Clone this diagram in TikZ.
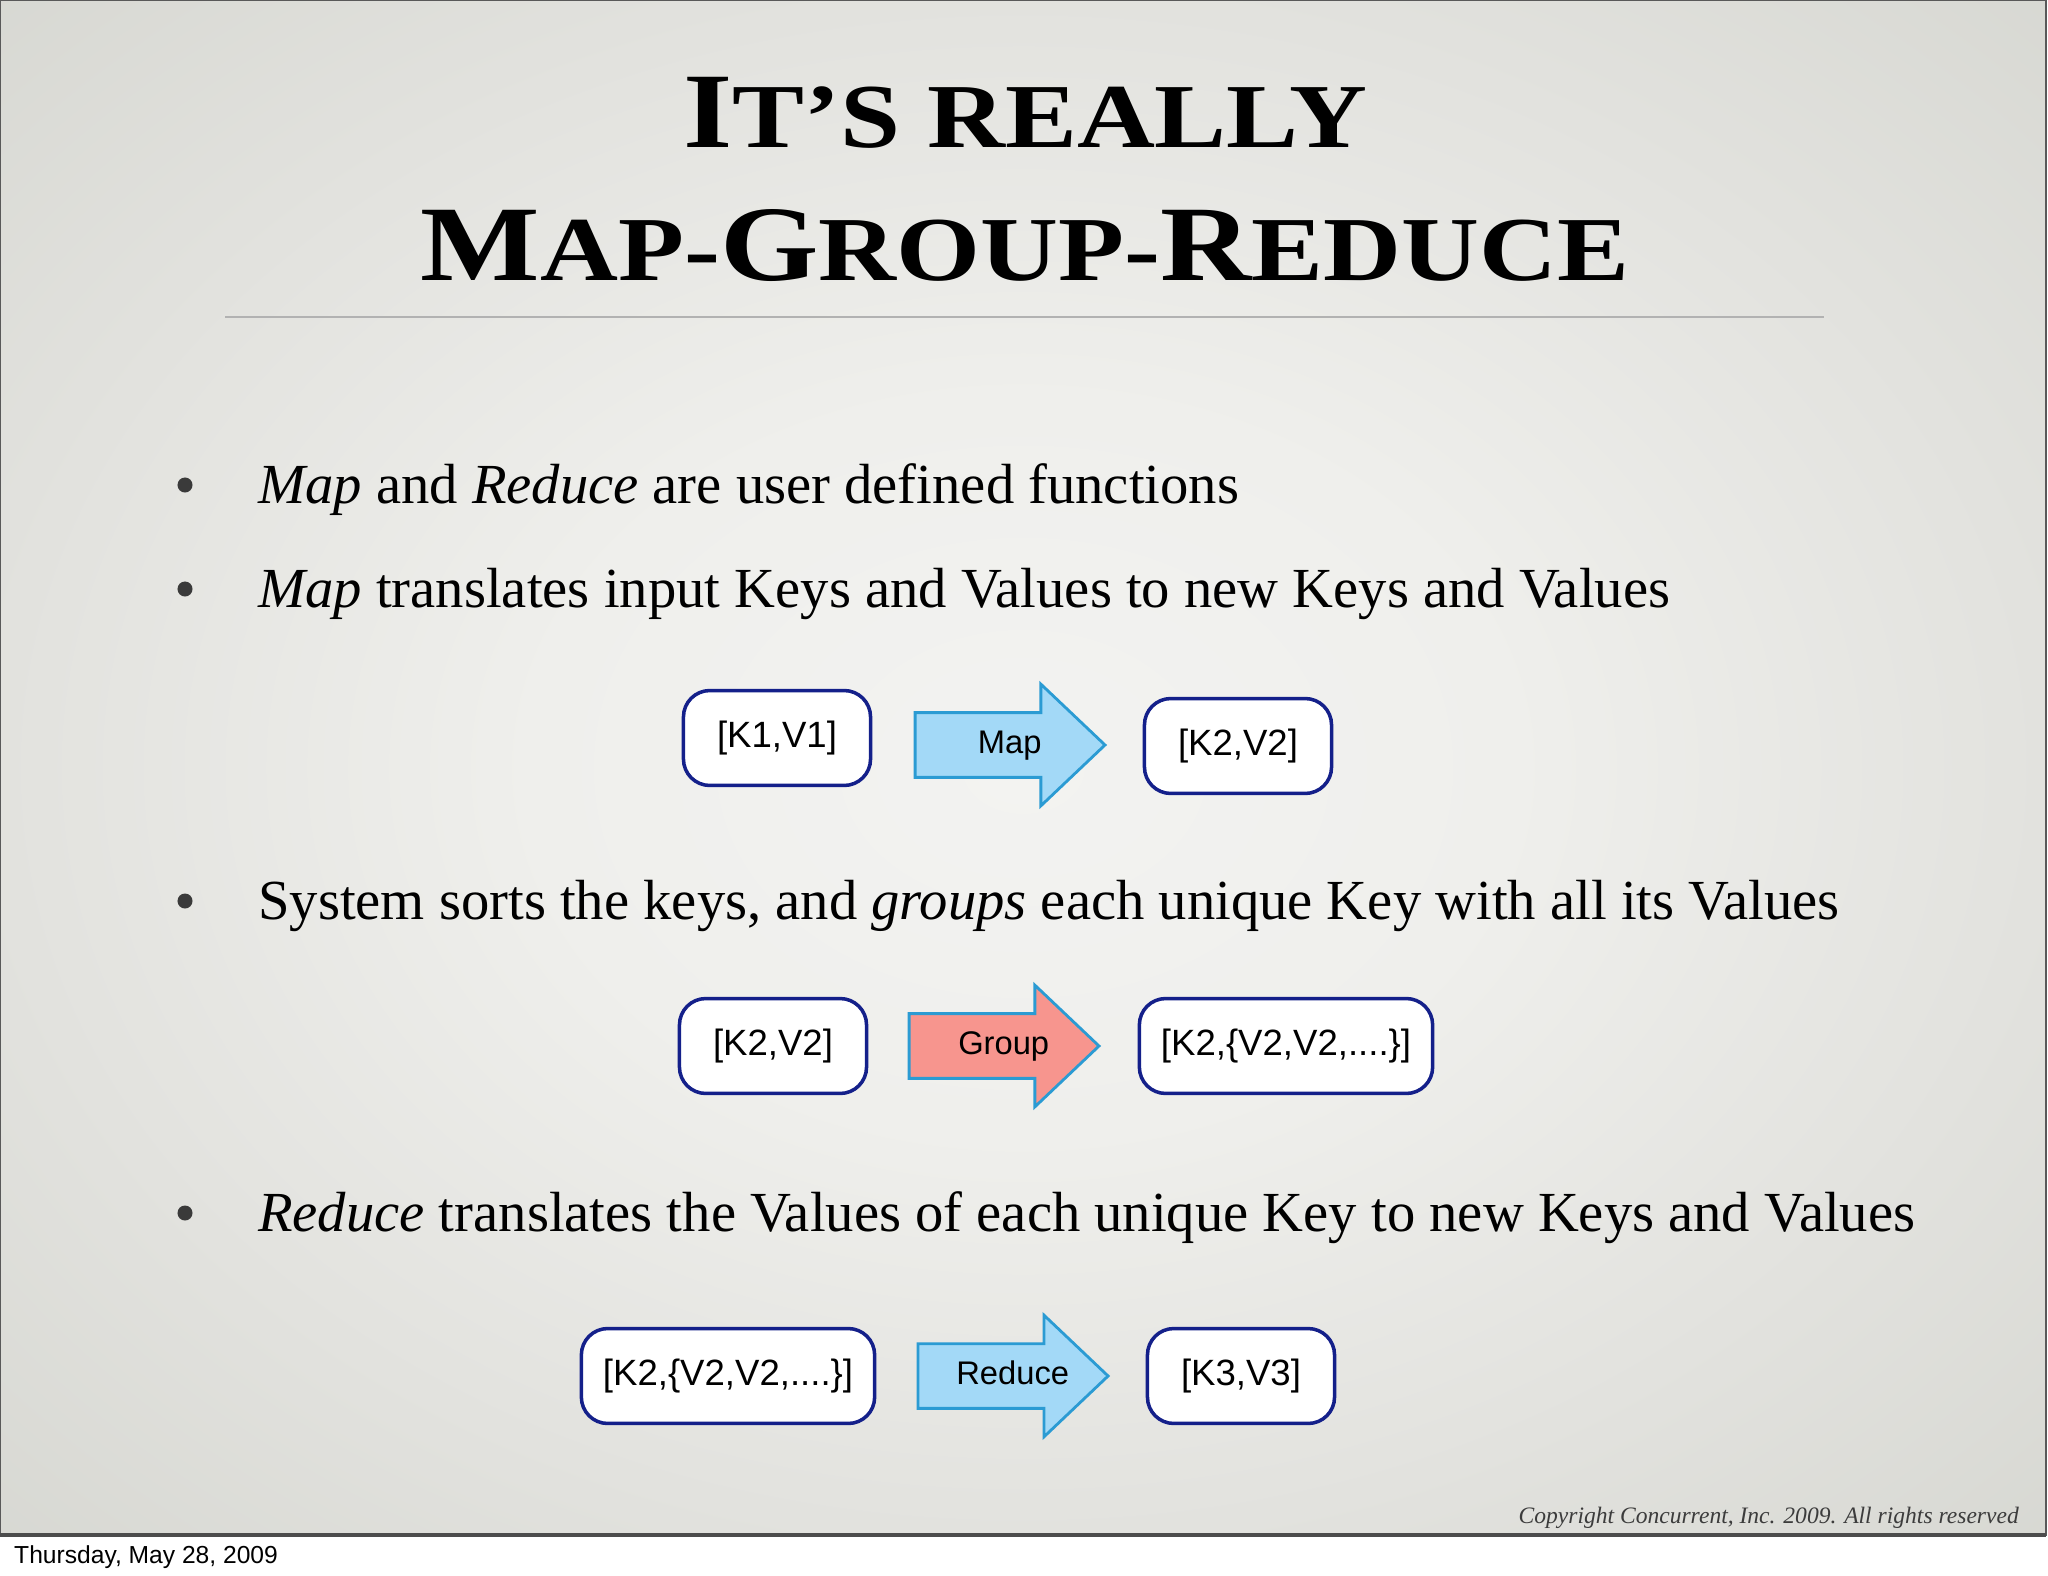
\documentclass[tikz,border=0pt]{standalone}
\usepackage{fontspec}
\setmainfont{Liberation Serif}
\setsansfont{Liberation Sans}
\newfontfamily\titlefont[FakeStretch=1.18]{Liberation Serif}
\newfontfamily\bodyfont{Liberation Serif}
\usetikzlibrary{shapes.arrows}

\definecolor{boxline}{HTML}{14208A}
\definecolor{arrowline}{HTML}{2B9BD3}
\definecolor{mapfill}{HTML}{A3D9F7}
\definecolor{groupfill}{HTML}{F7958E}
\definecolor{copytext}{HTML}{3C3C3C}
\definecolor{dotgray}{HTML}{3A3A3A}
\definecolor{bgA}{HTML}{F3F3F1}
\definecolor{bgB}{HTML}{EFEFEC}
\definecolor{bgC}{HTML}{E2E2DE}
\definecolor{bgD}{HTML}{D3D4CE}
\definecolor{bgE}{HTML}{C6C7BE}

% slide background, light in the middle
\pgfdeclareradialshading{slideshade}{\pgfpoint{0bp}{0bp}}{%
  color(0bp)=(bgA); color(12bp)=(bgB); color(25bp)=(bgC);
  color(40bp)=(bgD); color(58bp)=(bgE); color(71bp)=(bgE)}

% title letters: first capital large, the rest as small capitals
\newcommand{\titlecap}[2]{{\fontsize{30.5}{36}\selectfont #1}{\fontsize{26}{36}\selectfont #2}}

\begin{document}
\begin{tikzpicture}[x=0.01cm, y=-0.01cm,
every node/.style={inner sep=1pt},
kv/.style={draw=boxline, line width=1pt, fill=white, rounded corners=7.5pt,
    minimum height=27pt, font=\sffamily\fontsize{10.4}{12}\selectfont},
op/.style={single arrow, draw=arrowline, line width=0.8pt,
    single arrow tip angle=87, single arrow head extend=8.1pt,
    minimum height=54pt, text height=6.7pt, text depth=1.9pt, inner ysep=4.5pt,
    execute at begin node={\hspace*{9.5pt}},
    font=\sffamily\fontsize{9.3}{11}\selectfont},
bul/.style={anchor=base west, font=\bodyfont\fontsize{16.1}{19}\selectfont},
dot/.style={circle, fill=dotgray, minimum size=0.15cm, inner sep=0pt}
]
\useasboundingbox (0,0) rectangle (2048,1576);
\fill[white] (0,0) rectangle (2048,1576);
\shade[shading=slideshade] (0,0) rectangle (2046,1535);
\draw[black!65, line width=0.4pt] (0,0) rectangle (2046,1535);
\draw[black!70, line width=1.2pt] (0,1535) -- (2046,1535);

% title
\node[anchor=base, font=\titlefont\bfseries] (title1) at (1025,148)
    {\titlecap{I}{T’S REALLY}};
\node[anchor=base, font=\titlefont\bfseries] (title2) at (1025,281)
    {\titlecap{M}{AP-}\titlecap{G}{ROUP-}\titlecap{R}{EDUCE}};
\draw[black!30, line width=0.7pt] (225,317) -- (1824,317);

% bullets
\foreach \y [count=\i] in {485,589,901,1213}
    \node[dot] (dot\i) at (185,\y) {};
\node[bul] (b1) at (254,503) {\textit{Map} and \textit{Reduce} are user defined functions};
\node[bul] (b2) at (254,607) {\textit{Map} translates input Keys and Values to new Keys and Values};
\node[bul] (b3) at (254,919) {System sorts the keys, and \textit{groups} each unique Key with all its Values};
\node[bul] (b4) at (254,1231) {\textit{Reduce} translates the Values of each unique Key to new Keys and Values};

% map row
\node[kv, minimum width=53.2pt] (kv1) at (777,738) {[K1,V1]};
\node[op, fill=mapfill] (map) at (993,745) {Map};
\node[kv, minimum width=53.2pt] (kv2) at (1238,746) {[K2,V2]};

% group row
\node[kv, minimum width=53.2pt] (gin) at (773,1046) {[K2,V2]};
\node[op, fill=groupfill] (group) at (987,1046) {Group};
\node[kv, minimum width=83.4pt] (gout) at (1286,1046) {[K2,\{V2,V2,....\}]};

% reduce row
\node[kv, minimum width=83.4pt] (rin) at (728,1376) {[K2,\{V2,V2,....\}]};
\node[op, fill=mapfill] (reduce) at (996,1376) {Reduce};
\node[kv, minimum width=53.2pt] (rout) at (1241,1376) {[K3,V3]};

% footer
\node[anchor=base east, text=copytext, font=\bodyfont\itshape\fontsize{6.7}{8}\selectfont]
    (copy) at (2023,1523) {Copyright Concurrent, Inc. 2009. All rights reserved};
\node[anchor=base west, font=\sffamily\fontsize{7}{9}\selectfont]
    (date) at (10,1563) {Thursday, May 28, 2009};
\end{tikzpicture}
\end{document}
